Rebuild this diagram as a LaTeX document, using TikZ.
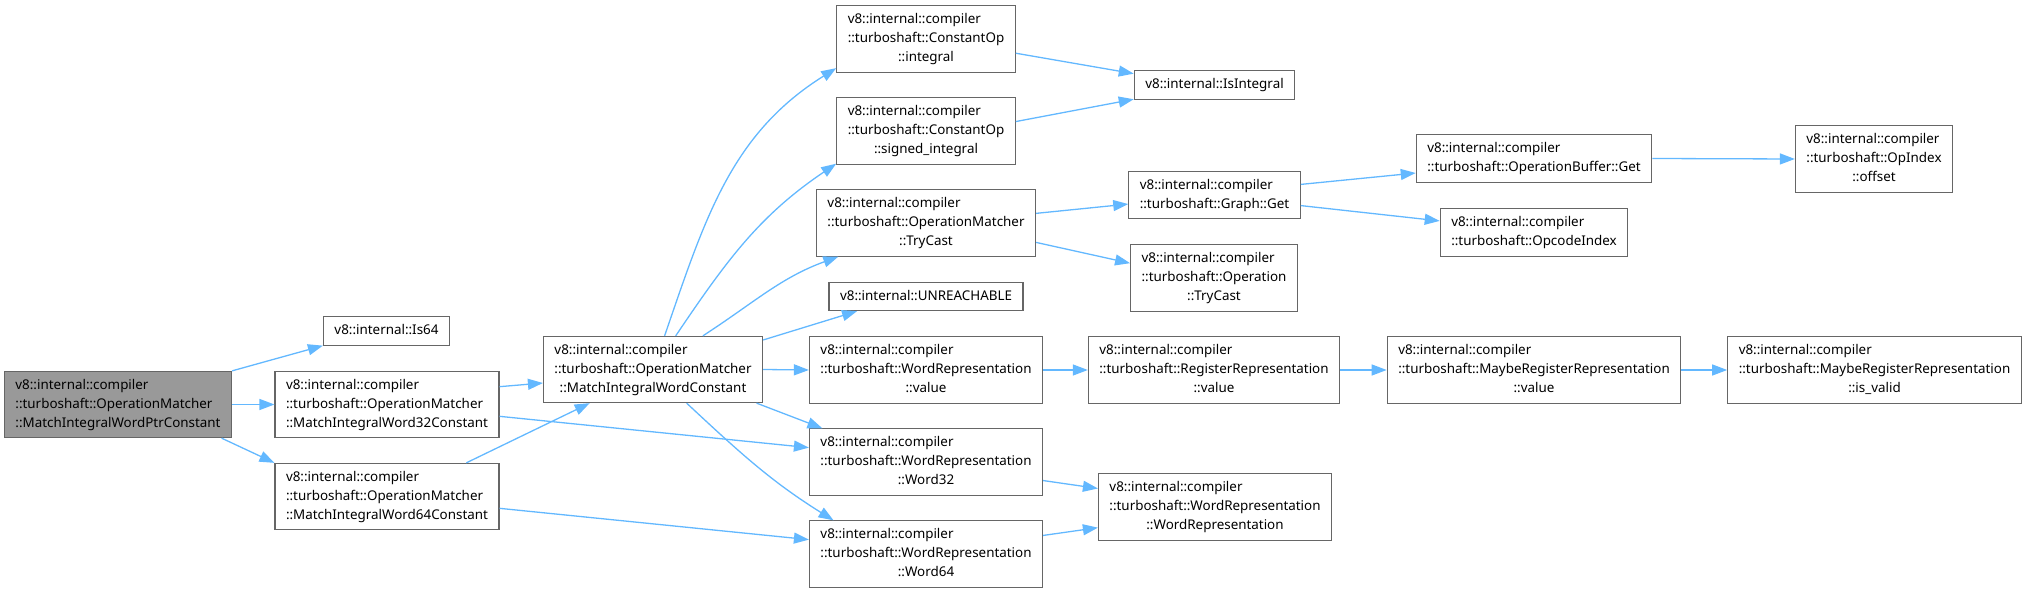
\documentclass[tikz,border=0pt]{standalone}
\usepackage{fontspec}
\setmainfont{Noto Sans}
\usetikzlibrary{arrows.meta}
\definecolor{grey40}{HTML}{666666}
\definecolor{grey60}{HTML}{999999}
\definecolor{steelblue}{HTML}{63B8FF}
\newcommand{\fnone}[1]{\begin{tabular}{@{}c@{}}#1\end{tabular}}
\newcommand{\fntwo}[2]{\begin{tabular}{@{}l@{}}#1\\#2\end{tabular}}
\newcommand{\fnthree}[3]{\begin{tabular}{@{}l@{}}#1\\#2\\\multicolumn{1}{@{}c@{}}{#3}\end{tabular}}
\begin{document}
\begin{tikzpicture}[
  x=1pt, y=1pt,
  fn/.style={draw=grey40, fill=white, line width=1.1pt, inner xsep=11pt,
    inner ysep=4.6pt, font=\fontsize{13.4}{19}\selectfont},
  focus/.style={fn, fill=grey60},
  call/.style={-{Triangle[length=15pt, width=11pt]}, steelblue, line width=1.3pt}
]
\useasboundingbox (0,0) rectangle (2026,-593);
% caller and its direct callees
\node[focus] (root) at (118,-404.5)
  {\fnthree{v8::internal::compiler}{::turboshaft::OperationMatcher}{::MatchIntegralWordPtrConstant}};
\node[fn] (is64) at (386.5,-331) {\fnone{v8::internal::Is64}};
\node[fn] (miw32) at (387,-404.5)
  {\fnthree{v8::internal::compiler}{::turboshaft::OperationMatcher}{::MatchIntegralWord32Constant}};
\node[fn] (miw64) at (387,-496.5)
  {\fnthree{v8::internal::compiler}{::turboshaft::OperationMatcher}{::MatchIntegralWord64Constant}};
\node[fn] (miwc) at (653,-369.5)
  {\fnthree{v8::internal::compiler}{::turboshaft::OperationMatcher}{::MatchIntegralWordConstant}};
% third column
\node[fn] (cint) at (926,-39)
  {\fnthree{v8::internal::compiler}{::turboshaft::ConstantOp}{::integral}};
\node[fn] (csint) at (926,-131)
  {\fnthree{v8::internal::compiler}{::turboshaft::ConstantOp}{::signed\_integral}};
\node[fn] (omtry) at (926,-223)
  {\fnthree{v8::internal::compiler}{::turboshaft::OperationMatcher}{::TryCast}};
\node[fn] (unreach) at (926,-296.5) {\fnone{v8::internal::UNREACHABLE}};
\node[fn] (wrval) at (926,-370)
  {\fnthree{v8::internal::compiler}{::turboshaft::WordRepresentation}{::value}};
\node[fn] (wr32) at (926,-462)
  {\fnthree{v8::internal::compiler}{::turboshaft::WordRepresentation}{::Word32}};
\node[fn] (wr64) at (926,-554)
  {\fnthree{v8::internal::compiler}{::turboshaft::WordRepresentation}{::Word64}};
% fourth column
\node[fn] (isint) at (1214.5,-85) {\fnone{v8::internal::IsIntegral}};
\node[fn] (gget) at (1214.5,-195)
  {\fntwo{v8::internal::compiler}{::turboshaft::Graph::Get}};
\node[fn] (optry) at (1214,-278)
  {\fnthree{v8::internal::compiler}{::turboshaft::Operation}{::TryCast}};
\node[fn] (rrval) at (1214,-370)
  {\fnthree{v8::internal::compiler}{::turboshaft::RegisterRepresentation}{::value}};
\node[fn] (wrwr) at (1215,-507)
  {\fnthree{v8::internal::compiler}{::turboshaft::WordRepresentation}{::WordRepresentation}};
% fifth and sixth columns
\node[fn] (obget) at (1534,-158.5)
  {\fntwo{v8::internal::compiler}{::turboshaft::OperationBuffer::Get}};
\node[fn] (opcode) at (1534,-232.5)
  {\fntwo{v8::internal::compiler}{::turboshaft::OpcodeIndex}};
\node[fn] (mrrval) at (1534,-370)
  {\fnthree{v8::internal::compiler}{::turboshaft::MaybeRegisterRepresentation}{::value}};
\node[fn] (offset) at (1874,-159)
  {\fnthree{v8::internal::compiler}{::turboshaft::OpIndex}{::offset}};
\node[fn] (isvalid) at (1874.5,-370)
  {\fnthree{v8::internal::compiler}{::turboshaft::MaybeRegisterRepresentation}{::is\_valid}};
% calls
\draw[call] (root.north east) -- (is64.south west);
\draw[call] (root.east) -- (miw32.west);
\draw[call] (root.-18) -- (miw64.north west);
\draw[call] (miw32.9) -- (miwc.187);
\draw[call] (miw32.-6) -- (wr32.173);
\draw[call] (miw64.23) -- (miwc.208);
\draw[call] (miw64.-6) -- (wr64.173);
\draw[call] (miwc.71) to[out=71, in=212] (cint.198);
\draw[call] (miwc.56) to[out=56, in=214] (csint.200);
\draw[call] (miwc.34) to[out=33, in=200] (omtry.201);
\draw[call] (miwc.15) -- (unreach.192);
\draw[call] (miwc.east) -- (wrval.west);
\draw[call] (miwc.-18) -- (wr32.162);
\draw[call] (miwc.-45) to[out=-43, in=148] (wr64.160);
\draw[call] (cint.-9) -- (isint.172);
\draw[call] (csint.6) -- (isint.190);
\draw[call] (omtry.5) -- (gget.186);
\draw[call] (omtry.-10) -- (optry.170);
\draw[call] (gget.7) -- (obget.187);
\draw[call] (gget.-7) -- (opcode.173);
\draw[call] (obget.east) -- (offset.west);
\draw[call] (wrval.east) -- (rrval.west);
\draw[call] (rrval.east) -- (mrrval.west);
\draw[call] (mrrval.east) -- (isvalid.west);
\draw[call] (wr32.-9) -- (wrwr.171);
\draw[call] (wr64.9) -- (wrwr.190);
\end{tikzpicture}
\end{document}
